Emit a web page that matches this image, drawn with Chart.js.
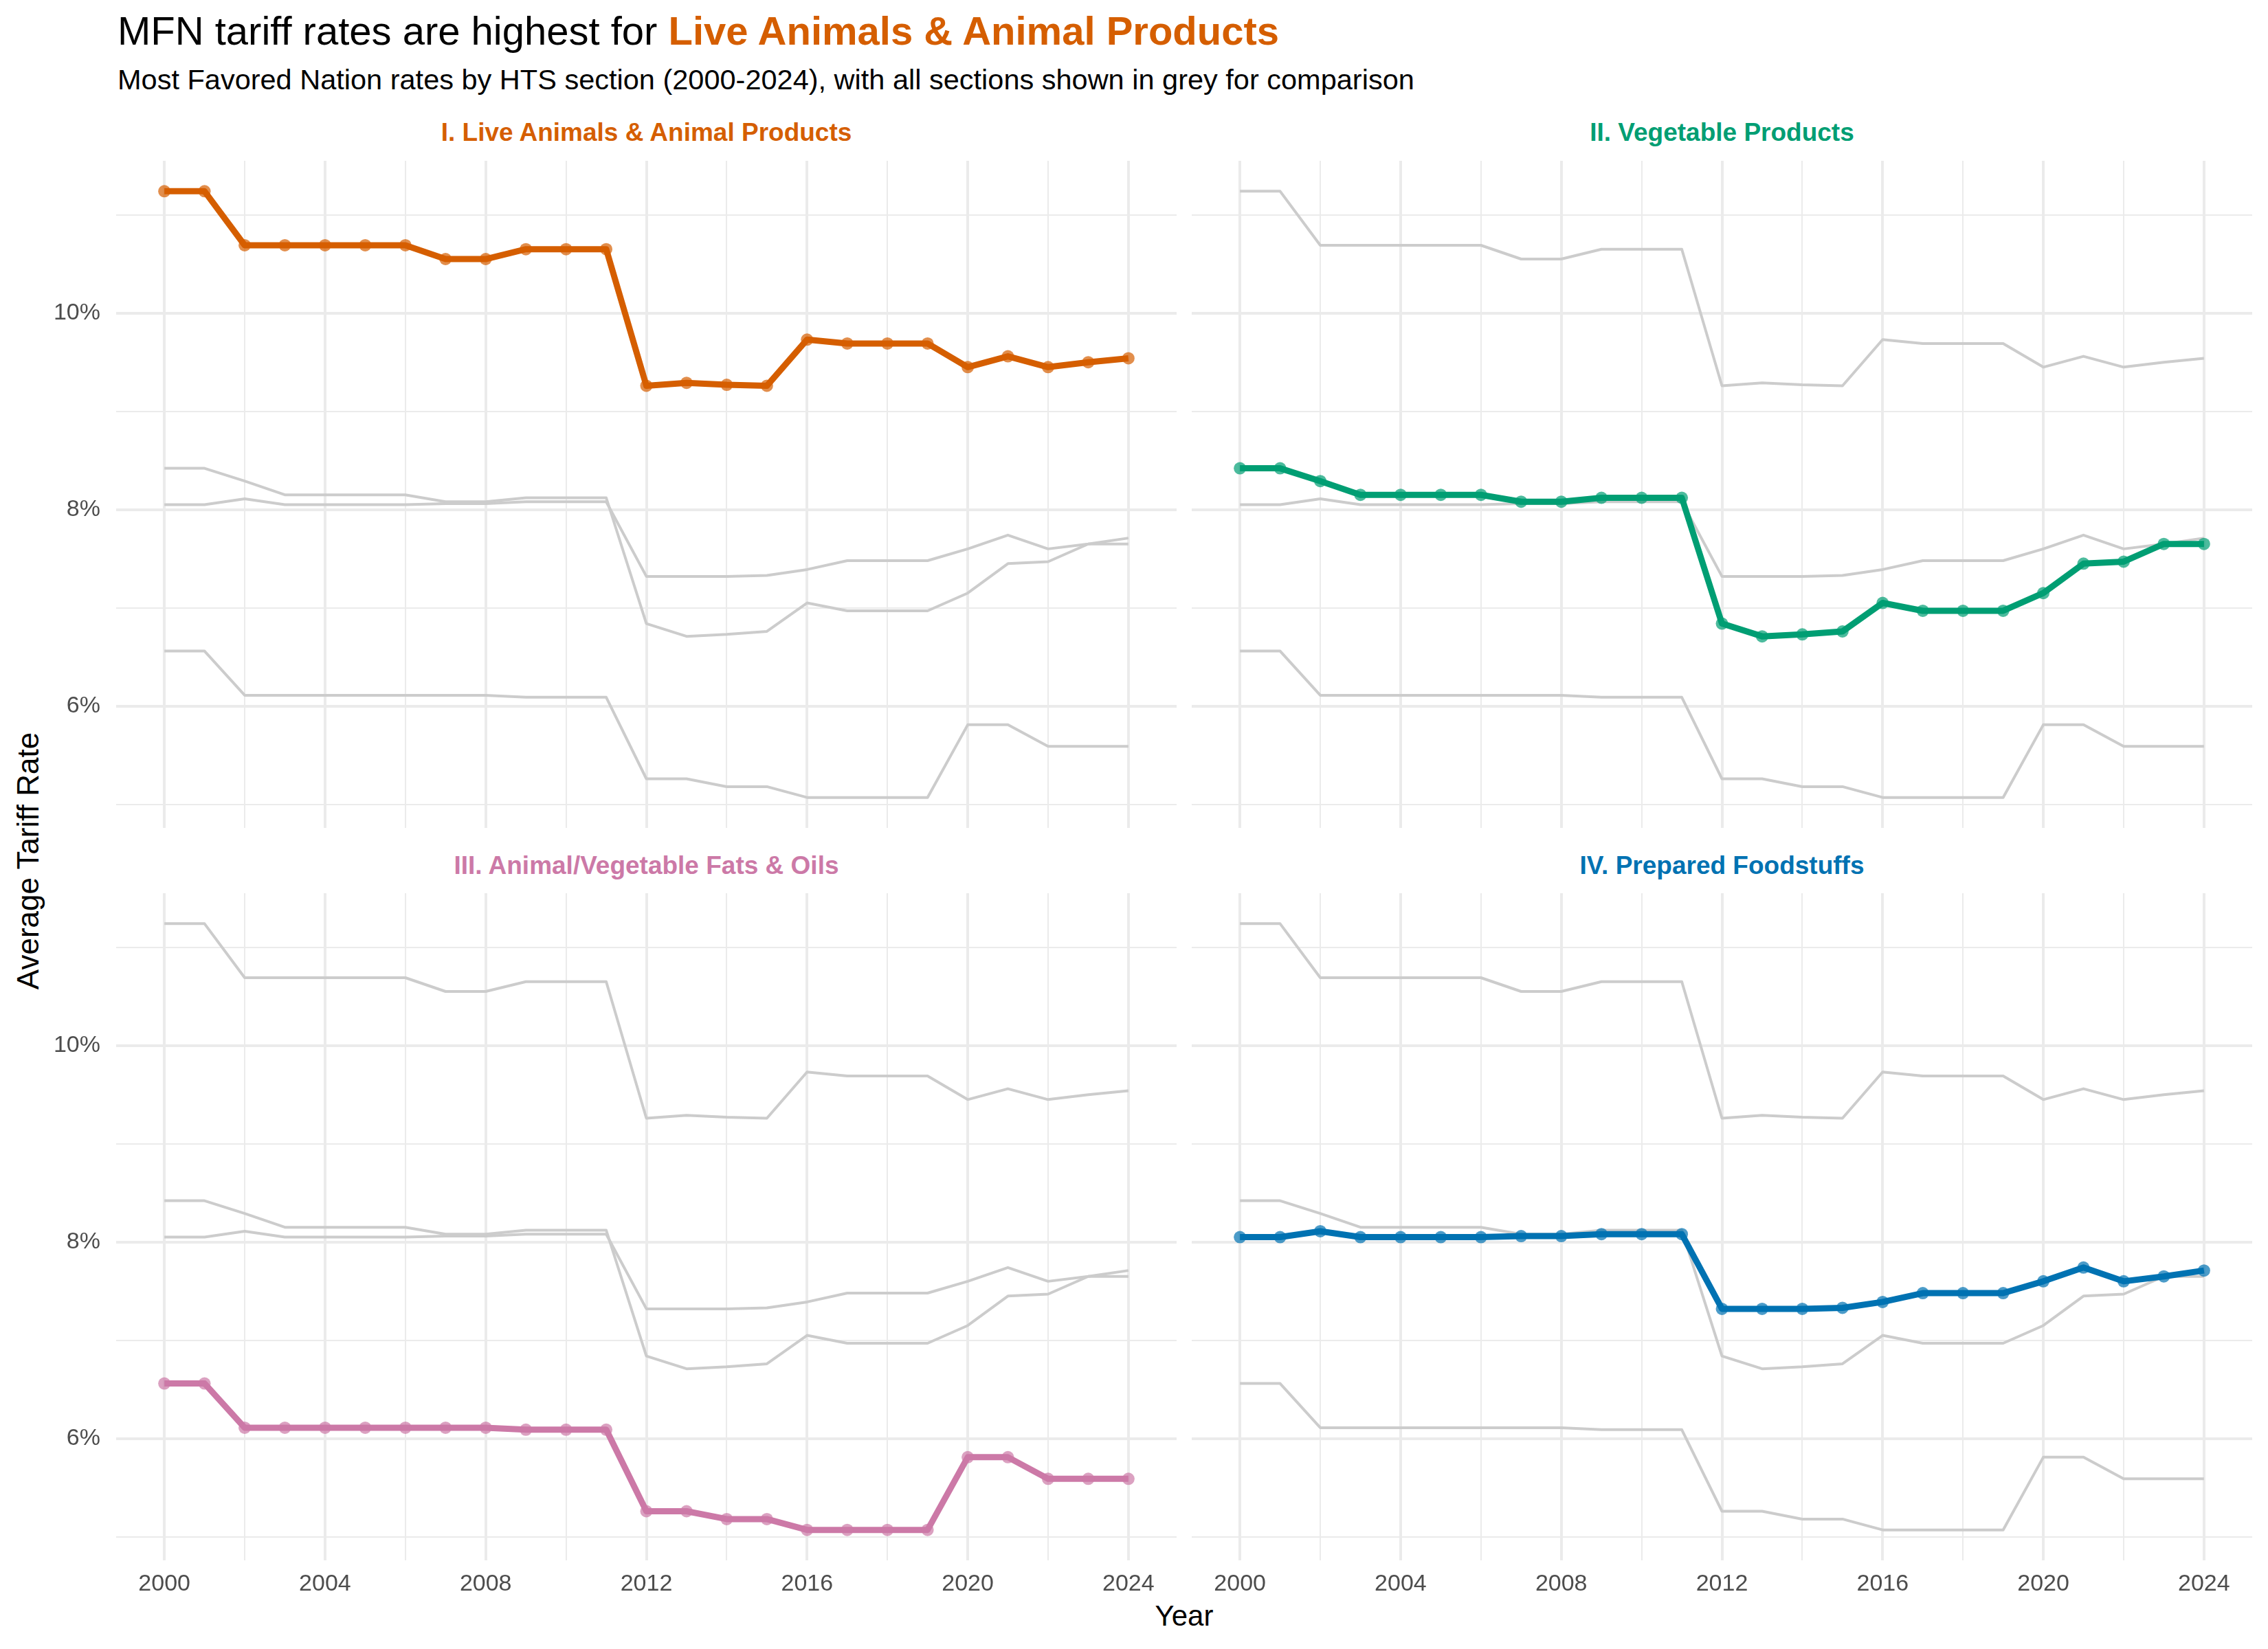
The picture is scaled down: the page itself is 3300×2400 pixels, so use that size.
<!DOCTYPE html>
<html>
<head>
<meta charset="utf-8">
<script src="https://cdn.jsdelivr.net/npm/chart.js@4.4.0/dist/chart.umd.min.js"></script>
<style>
  body { margin: 0; background: #fff; }
  #page { position: relative; width: 3300px; height: 2400px; background: #fff; font-family: "Liberation Sans", Arial, sans-serif; }
  .txt { position: absolute; white-space: nowrap; line-height: 1; }
  canvas { position: absolute; }
</style>
</head>
<body>
<div id="page">
  <div class="txt" style="left:171px; top:16px; font-size:58px; color:#000;">MFN tariff rates are highest for <b style="color:#D55E00;">Live Animals &amp; Animal Products</b></div>
  <div class="txt" style="left:171px; top:95px; font-size:41.5px; color:#000;">Most Favored Nation rates by HTS section (2000-2024), with all sections shown in grey for comparison</div>
  <div class="txt" id="strip0" style="left:169px; width:1543px; text-align:center; top:174px; font-size:37px; font-weight:bold;"></div>
  <div class="txt" id="strip1" style="left:1734px; width:1543px; text-align:center; top:174px; font-size:37px; font-weight:bold;"></div>
  <div class="txt" id="strip2" style="left:169px; width:1543px; text-align:center; top:1241px; font-size:37px; font-weight:bold;"></div>
  <div class="txt" id="strip3" style="left:1734px; width:1543px; text-align:center; top:1241px; font-size:37px; font-weight:bold;"></div>
  <div class="txt" style="left:41px; top:1253px; font-size:44px; color:#000; transform: translate(-50%, -50%) rotate(-90deg);">Average Tariff Rate</div>
  <div class="txt" style="left:1523px; width:400px; text-align:center; top:2331px; font-size:42px; color:#000;">Year</div>

  <canvas id="c0" width="1712" height="971" style="left:0px; top:234px;"></canvas>
  <canvas id="c1" width="1543" height="971" style="left:1734px; top:234px;"></canvas>
  <canvas id="c2" width="1712" height="1060" style="left:0px; top:1300px;"></canvas>
  <canvas id="c3" width="1543" height="1060" style="left:1734px; top:1300px;"></canvas>
</div>
<script>
// tariff data (percent)
var years = [2000, 2001, 2002, 2003, 2004, 2005, 2006, 2007, 2008, 2009, 2010, 2011, 2012,
             2013, 2014, 2015, 2016, 2017, 2018, 2019, 2020, 2021, 2022, 2023, 2024];

var liveAnimals = [11.24, 11.24, 10.69, 10.69, 10.69, 10.69, 10.69, 10.55, 10.55, 10.65, 10.65, 10.65, 9.26,
                   9.29, 9.27, 9.26, 9.73, 9.69, 9.69, 9.69, 9.45, 9.56, 9.45, 9.50, 9.54];
var vegetable = [8.42, 8.42, 8.29, 8.15, 8.15, 8.15, 8.15, 8.08, 8.08, 8.12, 8.12, 8.12, 6.84,
                 6.71, 6.73, 6.76, 7.05, 6.97, 6.97, 6.97, 7.15, 7.45, 7.47, 7.65, 7.65];
var fatsOils = [6.56, 6.56, 6.11, 6.11, 6.11, 6.11, 6.11, 6.11, 6.11, 6.09, 6.09, 6.09, 5.26,
                5.26, 5.18, 5.18, 5.07, 5.07, 5.07, 5.07, 5.81, 5.81, 5.59, 5.59, 5.59];
var prepared = [8.05, 8.05, 8.11, 8.05, 8.05, 8.05, 8.05, 8.06, 8.06, 8.08, 8.08, 8.08, 7.32,
                7.32, 7.32, 7.33, 7.39, 7.48, 7.48, 7.48, 7.60, 7.74, 7.60, 7.65, 7.71];

var sectionNames = ["I. Live Animals & Animal Products", "II. Vegetable Products",
                    "III. Animal/Vegetable Fats & Oils", "IV. Prepared Foodstuffs"];
var sectionColors = ["#D55E00", "#009E73", "#CC79A7", "#0072B2"];
var sectionPoints = ["rgba(213,94,0,0.7)", "rgba(0,158,115,0.7)", "rgba(204,121,167,0.7)", "rgba(0,114,178,0.7)"];

var yearTicks = [2000, 2002, 2004, 2006, 2008, 2010, 2012, 2014, 2016, 2018, 2020, 2022, 2024];
var rateTicks = [5, 6, 7, 8, 9, 10, 11];

var allSeries = [liveAnimals, vegetable, fatsOils, prepared];
var fontFam = '"Liberation Sans", Arial, sans-serif';

function toPoints(vals) {
  return years.map(function(y, i) { return { x: y, y: vals[i] }; });
}

function makePanel(idx, showY, showX) {
  var datasets = [];
  // highlighted series first so it is drawn on top
  datasets.push({
    data: toPoints(allSeries[idx]),
    borderColor: sectionColors[idx],
    borderWidth: 9,
    borderJoinStyle: 'round',
    pointRadius: 9,
    pointBorderWidth: 0,
    pointBackgroundColor: sectionPoints[idx],
    tension: 0
  });
  allSeries.forEach(function(s) {
    datasets.push({
      data: toPoints(s),
      borderColor: '#cccccc',
      borderWidth: 4,
      borderJoinStyle: 'round',
      pointRadius: 0,
      tension: 0
    });
  });

  var strip = document.getElementById('strip' + idx);
  strip.textContent = sectionNames[idx];
  strip.style.color = sectionColors[idx];

  new Chart(document.getElementById('c' + idx), {
    type: 'line',
    data: { datasets: datasets },
    options: {
      responsive: false,
      animation: false,
      devicePixelRatio: 1,
      layout: { padding: 0, autoPadding: false },
      plugins: { legend: { display: false }, tooltip: { enabled: false }, title: { display: false } },
      scales: {
        x: {
          type: 'linear',
          min: 1998.8,
          max: 2025.2,
          afterBuildTicks: function(scale) {
            scale.ticks = yearTicks.map(function(v) { return { value: v }; });
          },
          afterFit: function(scale) {
            scale.height = showX ? 89 : 0;
            scale.paddingLeft = 0; scale.paddingRight = 0;
            scale.paddingTop = 0; scale.paddingBottom = 0;
          },
          border: { display: false },
          grid: {
            drawTicks: false,
            color: '#ebebeb',
            lineWidth: function(ctx) { return (ctx.tick && ctx.tick.value % 4 === 0) ? 4 : 2; }
          },
          ticks: {
            display: showX,
            padding: 14,
            maxRotation: 0,
            autoSkip: false,
            color: '#4d4d4d',
            font: { size: 34, family: fontFam },
            callback: function(v) { return v % 4 === 0 ? String(v) : ''; }
          }
        },
        y: {
          type: 'linear',
          min: 4.76,
          max: 11.55,
          afterBuildTicks: function(scale) {
            scale.ticks = rateTicks.map(function(v) { return { value: v }; });
          },
          afterFit: function(scale) {
            scale.width = showY ? 169 : 0;
            scale.paddingLeft = 0; scale.paddingRight = 0;
            scale.paddingTop = 0; scale.paddingBottom = 0;
          },
          border: { display: false },
          grid: {
            drawTicks: false,
            color: '#ebebeb',
            lineWidth: function(ctx) { return (ctx.tick && ctx.tick.value % 2 === 0) ? 4 : 2; }
          },
          ticks: {
            display: showY,
            padding: 23,
            autoSkip: false,
            color: '#4d4d4d',
            font: { size: 34, family: fontFam },
            callback: function(v) { return v % 2 === 0 ? v + '%' : ''; }
          }
        }
      }
    }
  });
}

makePanel(0, true, false);
makePanel(1, false, false);
makePanel(2, true, true);
makePanel(3, false, true);
</script>
</body>
</html>
